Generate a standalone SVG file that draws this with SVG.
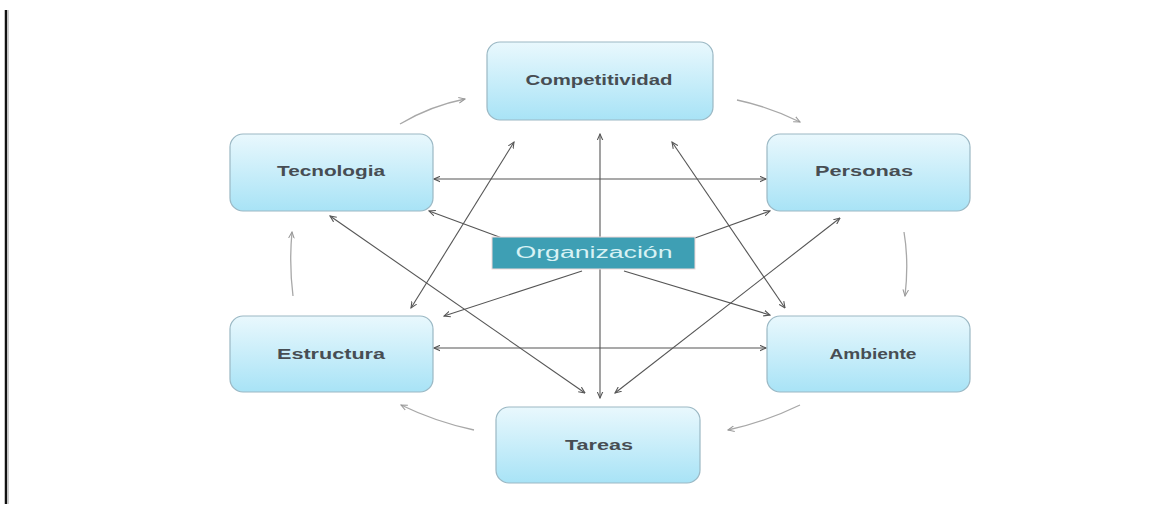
<svg xmlns="http://www.w3.org/2000/svg" width="1167" height="508" viewBox="0 0 1167 508">
<defs>
<linearGradient id="g" x1="0" y1="0" x2="0" y2="1">
<stop offset="0" stop-color="#e9f8fd"/>
<stop offset="1" stop-color="#a8e3f6"/>
</linearGradient>
<marker id="ah" viewBox="0 0 10 10" refX="9" refY="5" markerWidth="7" markerHeight="7" orient="auto-start-reverse" markerUnits="userSpaceOnUse">
<path d="M0,1 L9,5 L0,9" fill="none" stroke="#555" stroke-width="1.5"/>
</marker>
<marker id="ahl" viewBox="0 0 10 10" refX="9" refY="5" markerWidth="7" markerHeight="7" orient="auto" markerUnits="userSpaceOnUse">
<path d="M0,1 L9,5 L0,9" fill="none" stroke="#999" stroke-width="1.5"/>
</marker>
<style>
.node{fill:url(#g);stroke:#9bb8c4;stroke-width:1.2}
.lbl{font-family:"Liberation Sans",Arial,sans-serif;font-size:14px;font-weight:bold;fill:#474d53;text-anchor:middle;dominant-baseline:middle}
.c{stroke:#555;stroke-width:1.1;fill:none}
.cy{stroke:#a8a8a8;stroke-width:1.3;fill:none}
</style>
</defs>
<rect width="1167" height="508" fill="#ffffff"/>
<line x1="6" y1="10" x2="6" y2="504" stroke="#111" stroke-width="2.5"/>
<line x1="8.5" y1="10" x2="8.5" y2="504" stroke="#ccc" stroke-width="1"/>

<g id="connectors">
<line class="c" x1="434" y1="179" x2="766" y2="179" marker-start="url(#ah)" marker-end="url(#ah)"/>
<line class="c" x1="434" y1="348" x2="766" y2="348" marker-start="url(#ah)" marker-end="url(#ah)"/>
<line class="c" x1="600" y1="134" x2="600" y2="398" marker-start="url(#ah)" marker-end="url(#ah)"/>
<line class="c" x1="514" y1="142" x2="411" y2="308" marker-start="url(#ah)" marker-end="url(#ah)"/>
<line class="c" x1="672" y1="142" x2="785" y2="308" marker-start="url(#ah)" marker-end="url(#ah)"/>
<line class="c" x1="330" y1="216" x2="585" y2="393" marker-start="url(#ah)" marker-end="url(#ah)"/>
<line class="c" x1="840" y1="218" x2="615" y2="393" marker-start="url(#ah)" marker-end="url(#ah)"/>
<line class="c" x1="502" y1="238" x2="429" y2="211" marker-end="url(#ah)"/>
<line class="c" x1="695" y1="238" x2="770" y2="211" marker-end="url(#ah)"/>
<line class="c" x1="582" y1="271" x2="444" y2="316" marker-end="url(#ah)"/>
<line class="c" x1="624" y1="271" x2="770" y2="315" marker-end="url(#ah)"/>
<path class="cy" d="M400,124 Q430,106 465,99" marker-end="url(#ahl)"/>
<path class="cy" d="M737,100 Q770,107 800,122" marker-end="url(#ahl)"/>
<path class="cy" d="M904,232 Q909,262 905,296" marker-end="url(#ahl)"/>
<path class="cy" d="M800,405 Q765,422 728,430" marker-end="url(#ahl)"/>
<path class="cy" d="M474,430 Q436,422 401,405" marker-end="url(#ahl)"/>
<path class="cy" d="M293,296 Q289,264 292,232" marker-end="url(#ahl)"/>
</g>

<g id="competitividad">
<rect class="node" x="487" y="42" width="226" height="78" rx="13"/>
<text class="lbl" x="599" y="81" textLength="147" lengthAdjust="spacingAndGlyphs">Competitividad</text>
</g>
<g id="tecnologia">
<rect class="node" x="230" y="134" width="203" height="77" rx="13"/>
<text class="lbl" x="331" y="172" textLength="108" lengthAdjust="spacingAndGlyphs">Tecnologia</text>
</g>
<g id="personas">
<rect class="node" x="767" y="134" width="203" height="77" rx="13"/>
<text class="lbl" x="864" y="172" textLength="98" lengthAdjust="spacingAndGlyphs">Personas</text>
</g>
<g id="estructura">
<rect class="node" x="230" y="316" width="203" height="76" rx="13"/>
<text class="lbl" x="331" y="355" textLength="108" lengthAdjust="spacingAndGlyphs">Estructura</text>
</g>
<g id="ambiente">
<rect class="node" x="767" y="316" width="203" height="76" rx="13"/>
<text class="lbl" x="873" y="355" textLength="87" lengthAdjust="spacingAndGlyphs">Ambiente</text>
</g>
<g id="tareas">
<rect class="node" x="496" y="407" width="204" height="76" rx="13"/>
<text class="lbl" x="599" y="446" textLength="68" lengthAdjust="spacingAndGlyphs">Tareas</text>
</g>
<g id="organizacion">
<rect x="492" y="237" width="203" height="32" fill="#3e9fb4" stroke="#f0d8d8" stroke-width="1"/>
<text x="594" y="254" font-family="Liberation Sans,Arial,sans-serif" font-size="16" fill="#d8f2f4" text-anchor="middle" dominant-baseline="middle" textLength="157" lengthAdjust="spacingAndGlyphs">Organización</text>
</g>
</svg>
